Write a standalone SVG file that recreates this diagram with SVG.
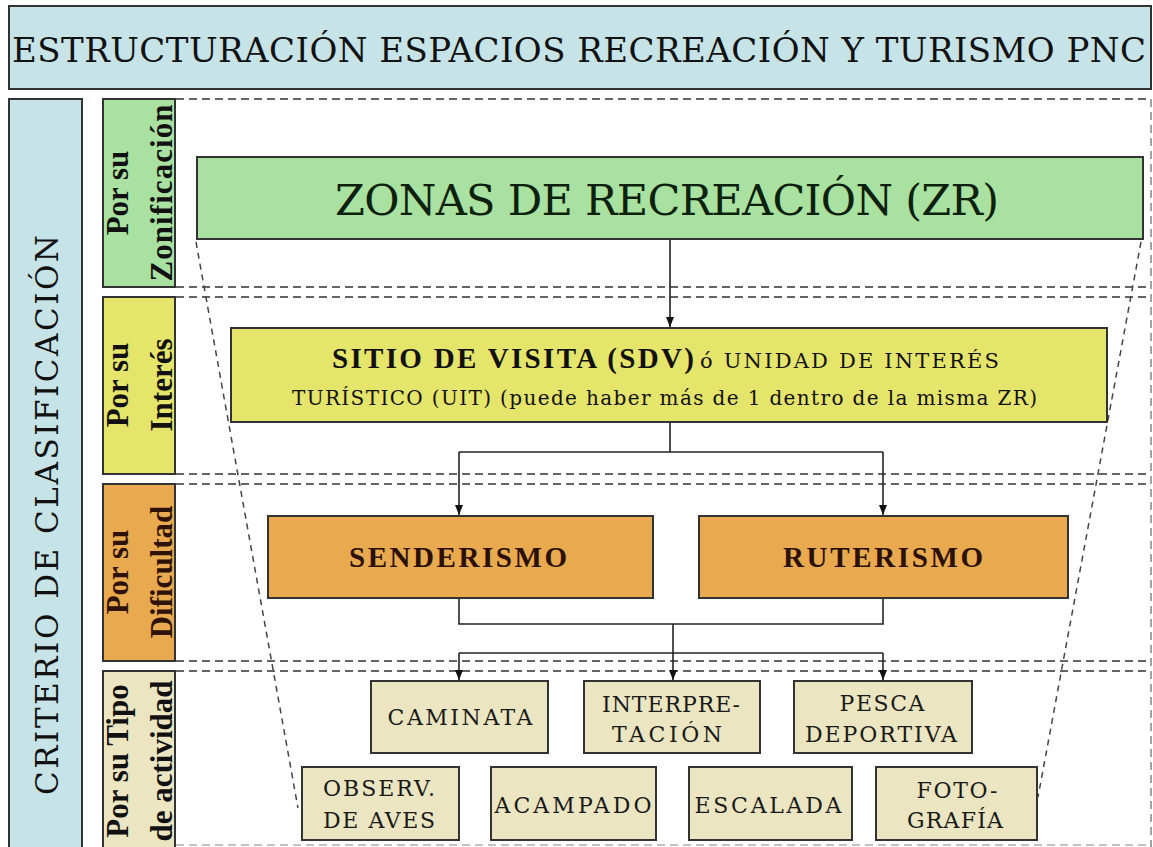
<svg xmlns="http://www.w3.org/2000/svg" width="1153" height="847" viewBox="0 0 1153 847">
<style>
  text { font-family: "Liberation Serif", "Times New Roman", serif; fill: #111; }
  .reg { font-family: "DejaVu Serif", "Liberation Serif", serif; }
  .box { stroke: #333; stroke-width: 2; }
  .blue { fill: #c6e3e7; }
  .green { fill: #a9e1a0; }
  .yellow { fill: #e5e46b; }
  .orange { fill: #e8a94f; }
  .beige { fill: #ebe6c1; }
  .cat { font-weight: bold; font-size: 31px; text-anchor: middle; }
  .act { font-family: "DejaVu Serif", "Liberation Serif", serif; font-size: 22px; text-anchor: middle; fill: #1a1a1a; }
  .dash { stroke: #333; stroke-width: 1.5; stroke-dasharray: 8 5; fill: none; }
  .slant { stroke: #444; stroke-width: 1.5; stroke-dasharray: 6 5; fill: none; }
  .conn { stroke: #222; stroke-width: 1.6; fill: none; }
</style>
<defs>
  <marker id="arr" markerWidth="10" markerHeight="8" refX="10" refY="4" orient="auto" markerUnits="userSpaceOnUse">
    <path d="M0,0 L10,4 L0,8 z" fill="#111"/>
  </marker>
</defs>
<rect width="1153" height="847" fill="#ffffff"/>

<g id="title">
  <rect class="box blue" x="9" y="6" width="1142" height="83"/>
  <text class="reg" x="12" y="62" font-size="34" textLength="1134">ESTRUCTURACIÓN ESPACIOS RECREACIÓN Y TURISMO PNC</text>
</g>

<g id="criterio">
  <rect class="box blue" x="9" y="99" width="73" height="760"/>
  <text class="reg" transform="translate(0,515) rotate(-90)" x="0" y="58" font-size="31" text-anchor="middle" textLength="560">CRITERIO DE CLASIFICACIÓN</text>
</g>

<g id="guides">
  <line class="dash" x1="176" y1="99" x2="1151" y2="99"/>
  <line class="dash" x1="176" y1="287" x2="1151" y2="287"/>
  <line class="dash" x1="176" y1="297" x2="1151" y2="297"/>
  <line class="dash" x1="176" y1="474" x2="1151" y2="474"/>
  <line class="dash" x1="176" y1="484" x2="1151" y2="484"/>
  <line class="dash" x1="176" y1="661" x2="1151" y2="661"/>
  <line class="dash" x1="176" y1="671" x2="1151" y2="671"/>
  <line class="dash" x1="176" y1="845" x2="1151" y2="845" stroke-opacity="0.4"/>
  <line class="dash" x1="1151" y1="99" x2="1151" y2="847" stroke-opacity="0.6"/>
  <line class="slant" x1="196" y1="242" x2="298" y2="808"/>
  <line class="slant" x1="1141" y1="242" x2="1038" y2="797"/>
</g>

<g id="cat-zonificacion">
  <rect class="box green" x="103" y="99" width="72" height="188"/>
  <g transform="translate(0,193) rotate(-90)">
    <text class="cat" x="0" y="128">Por su</text>
    <text class="cat" x="0" y="172" textLength="177">Zonificación</text>
  </g>
</g>
<g id="cat-interes">
  <rect class="box yellow" x="103" y="297" width="72" height="177"/>
  <g transform="translate(0,385) rotate(-90)">
    <text class="cat" x="0" y="128">Por su</text>
    <text class="cat" x="0" y="172">Interés</text>
  </g>
</g>
<g id="cat-dificultad">
  <rect class="box orange" x="103" y="484" width="72" height="177"/>
  <g transform="translate(0,572) rotate(-90)">
    <text class="cat" x="0" y="128" style="fill:#2e1206">Por su</text>
    <text class="cat" x="0" y="172" style="fill:#2e1206">Dificultad</text>
  </g>
</g>
<g id="cat-tipo">
  <rect class="box beige" x="103" y="671" width="72" height="190"/>
  <g transform="translate(0,761) rotate(-90)">
    <text class="cat" x="0" y="128">Por su Tipo</text>
    <text class="cat" x="0" y="172">de actividad</text>
  </g>
</g>

<g id="connectors">
  <line class="conn" x1="670" y1="239" x2="670" y2="327" marker-end="url(#arr)"/>
  <polyline class="conn" points="670,422 670,452"/>
  <polyline class="conn" points="459,452 883,452"/>
  <line class="conn" x1="459" y1="452" x2="459" y2="515" marker-end="url(#arr)"/>
  <line class="conn" x1="883" y1="452" x2="883" y2="515" marker-end="url(#arr)"/>
  <polyline class="conn" points="459,598 459,624 883,624 883,598"/>
  <line class="conn" x1="673" y1="624" x2="673" y2="680" marker-end="url(#arr)"/>
  <polyline class="conn" points="459,653 883,653"/>
  <line class="conn" x1="459" y1="653" x2="459" y2="680" marker-end="url(#arr)"/>
  <line class="conn" x1="883" y1="653" x2="883" y2="680" marker-end="url(#arr)"/>
</g>

<g id="zr">
  <rect class="box green" x="197" y="157" width="946" height="82"/>
  <text class="reg" x="335" y="215" font-size="43" textLength="664" style="fill:#0d1f0d">ZONAS DE RECREACIÓN (ZR)</text>
</g>

<g id="sdv">
  <rect class="box yellow" x="231" y="328" width="876" height="94"/>
  <text x="332" y="368" font-size="29" font-weight="bold" textLength="362">SITIO DE VISITA (SDV)</text>
  <text class="reg" x="700" y="368" font-size="21" textLength="299">ó UNIDAD DE INTERÉS</text>
  <text class="reg" x="292" y="405" font-size="20" textLength="745">TURÍSTICO (UIT) (puede haber más de 1 dentro de la misma ZR)</text>
</g>

<g id="senderismo">
  <rect class="box orange" x="268" y="516" width="385" height="82"/>
  <text x="458" y="567" font-size="29" font-weight="bold" text-anchor="middle" textLength="218" style="fill:#2a1005">SENDERISMO</text>
</g>
<g id="ruterismo">
  <rect class="box orange" x="699" y="516" width="369" height="82"/>
  <text x="883" y="567" font-size="29" font-weight="bold" text-anchor="middle" textLength="200" style="fill:#2a1005">RUTERISMO</text>
</g>

<g id="caminata">
  <rect class="box beige" x="371" y="681" width="177" height="72"/>
  <text class="act" x="460" y="725" textLength="145">CAMINATA</text>
</g>
<g id="interpretacion">
  <rect class="box beige" x="584" y="681" width="176" height="72"/>
  <text class="act" x="671" y="712" textLength="138">INTERPRE-</text>
  <text class="act" x="667" y="742" textLength="110">TACIÓN</text>
</g>
<g id="pesca">
  <rect class="box beige" x="794" y="681" width="178" height="72"/>
  <text class="act" x="882" y="711" textLength="85">PESCA</text>
  <text class="act" x="881" y="742" textLength="152">DEPORTIVA</text>
</g>
<g id="observ">
  <rect class="box beige" x="302" y="767" width="157" height="73"/>
  <text class="act" x="379" y="796" textLength="112">OBSERV.</text>
  <text class="act" x="379" y="828" textLength="112">DE AVES</text>
</g>
<g id="acampado">
  <rect class="box beige" x="491" y="767" width="165" height="73"/>
  <text class="act" x="573" y="813" textLength="157">ACAMPADO</text>
</g>
<g id="escalada">
  <rect class="box beige" x="689" y="767" width="163" height="73"/>
  <text class="act" x="768" y="813" textLength="147">ESCALADA</text>
</g>
<g id="fotografia">
  <rect class="box beige" x="876" y="767" width="161" height="73"/>
  <text class="act" x="957" y="798" textLength="81">FOTO-</text>
  <text class="act" x="955" y="828" textLength="96">GRAFÍA</text>
</g>
</svg>
